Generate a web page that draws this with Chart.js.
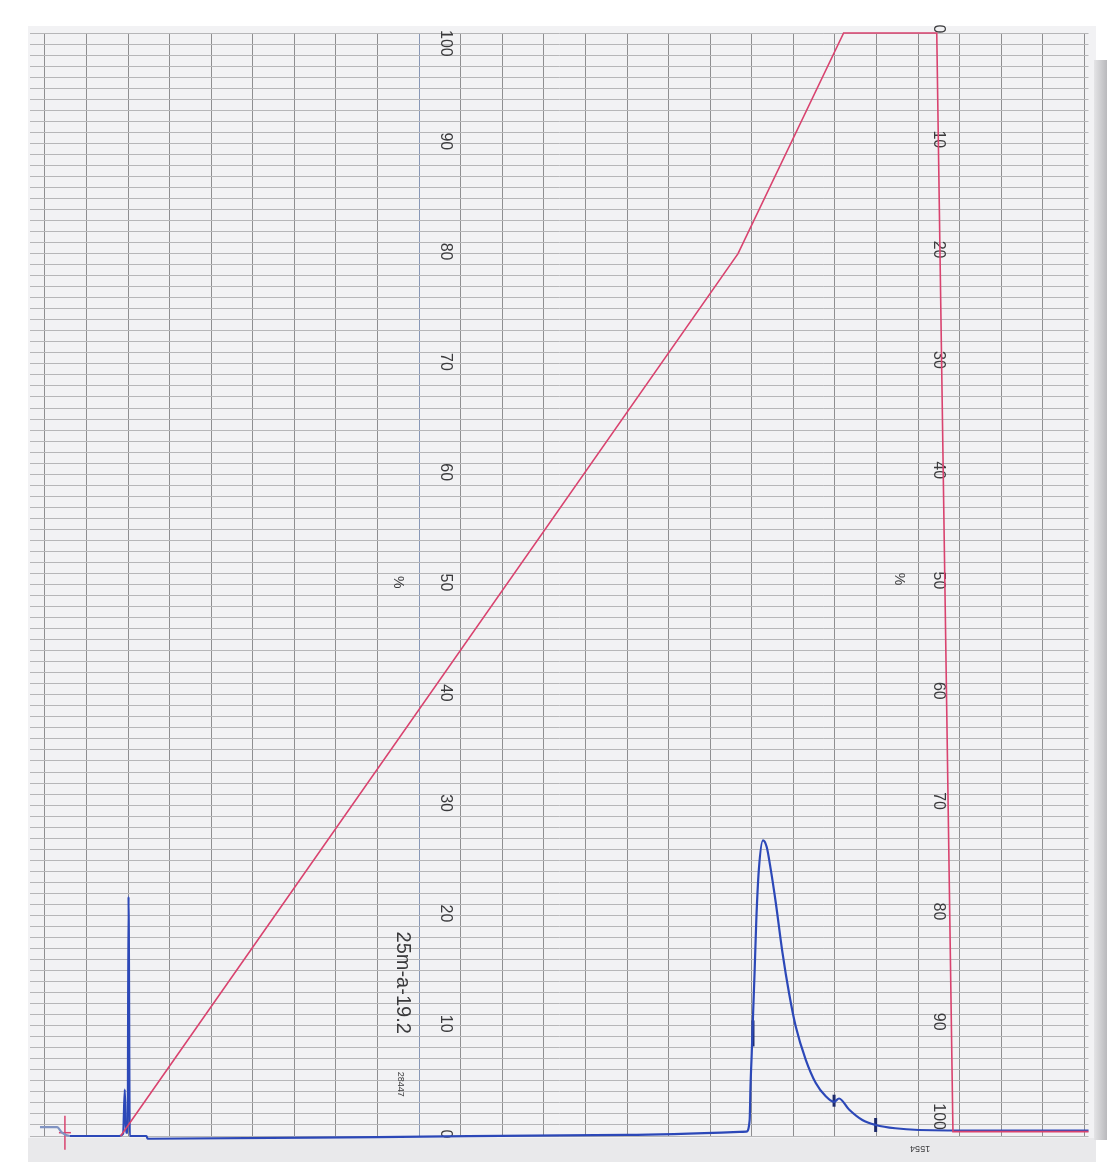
<!DOCTYPE html>
<html>
<head>
<meta charset="utf-8">
<title>25m-a-19.2</title>
<script src="https://cdn.jsdelivr.net/npm/chart.js@4.4.1/dist/chart.umd.min.js"></script>
<style>
  html, body { margin: 0; padding: 0; background: #fff; }
  #wrap { position: relative; width: 1107px; height: 1175px; }
</style>
</head>
<body>
<div id="wrap"><canvas id="trace"></canvas></div>
<script>
// Detector trace (blue). x = chart divisions, y = % of full scale
const traceX = [-0.12, 0.29, 0.41, 0.60, 1.79, 1.88, 1.92, 1.95, 1.99, 2.01, 2.04, 2.44, 2.47, 8.00, 14.00,
  16.87, 16.95, 16.97, 17.00, 17.03, 17.07, 17.11, 17.17, 17.27, 17.36, 17.46, 17.58, 17.74, 17.90,
  18.06, 18.30, 18.54, 18.78, 18.98, 19.10, 19.34, 19.66, 19.98, 20.45, 21.72, 25.10];
const traceY = [0.8, 0.8, 0.3, 0.0, 0.0, 0.2, 4.2, 0.3, 0.3, 21.7, 0.0, 0.0, -0.25, -0.1, 0.1,
  0.39, 1.45, 4.5, 7.5, 10.8, 15.0, 19.6, 24.1, 26.8, 26.2, 24.1, 21.1, 16.6, 12.9,
  9.9, 6.9, 4.8, 3.6, 3.1, 3.4, 2.4, 1.45, 1.0, 0.7, 0.5, 0.5];

// Gradient programme (red), % B
const gradX = [1.82, 16.67, 19.21, 21.45, 21.84, 25.10];
const gradY = [0, 80, 100, 100, 0.4, 0.4];

// Integrator marks on the trace
const markX = [17.03, 18.98, 19.98];
const markY = [9.3, 3.2, 1.0];

// Injection mark
const injectX = [0.48];
const injectY = [0.3];

// Printed scales on the paper
const scaleValues = [0, 10, 20, 30, 40, 50, 60, 70, 80, 90, 100];
const leftLabels = ['0', '10', '20', '30', '40', '50', '60', '70', '80', '90', '100'];
const rightLabels = ['100', '90', '80', '70', '60', '50', '40', '30', '20', '10', '0'];

const toPoints = (xs, ys) => xs.map((x, i) => ({ x: x, y: ys[i] }));

const RED = '#d9436f';
const BLUE = '#2c48b8';
const FONT = '"Liberation Sans", Arial, sans-serif';

// paper background
const paper = {
  id: 'paper',
  beforeDraw(chart) {
    const { ctx, width, height } = chart;
    ctx.save();
    ctx.fillStyle = '#ffffff';
    ctx.fillRect(0, 0, width, height);
    ctx.fillStyle = '#f2f2f4';
    ctx.fillRect(28, 26, 1068, 1112);
    ctx.fillStyle = '#e9e9eb';
    ctx.fillRect(28, 1138, 1068, 24);
    const g = ctx.createLinearGradient(1094, 0, 1107, 0);
    g.addColorStop(0, '#e4e4e6');
    g.addColorStop(1, '#b9b9bc');
    ctx.fillStyle = g;
    ctx.fillRect(1094, 60, 13, 1080);
    ctx.restore();
  }
};

// printed text on the chart paper
const printed = {
  id: 'printed',
  beforeDatasetsDraw(chart) {
    const { ctx, chartArea: a, scales: { x, y } } = chart;
    const put = (txt, px, py, angle) => {
      ctx.save();
      ctx.translate(px, py);
      ctx.rotate(angle);
      ctx.textAlign = 'center';
      ctx.textBaseline = 'middle';
      ctx.fillText(txt, 0, 0);
      ctx.restore();
    };
    ctx.save();
    ctx.fillStyle = '#3a3a3c';
    ctx.font = '16px ' + FONT;
    const lx = x.getPixelForValue(9.62);
    const rx = x.getPixelForValue(21.48);
    scaleValues.forEach((v, i) => {
      const wl = ctx.measureText(leftLabels[i]).width;
      put(leftLabels[i], lx, Math.max(y.getPixelForValue(v) - 2, a.top + wl / 2 - 3), Math.PI / 2);
      const wr = ctx.measureText(rightLabels[i]).width;
      put(rightLabels[i], rx, Math.min(y.getPixelForValue(v) - 4, a.bottom - wr / 2 - 6), Math.PI / 2);
    });
    ctx.font = '14px ' + FONT;
    put('%', x.getPixelForValue(8.49), y.getPixelForValue(50.2), Math.PI / 2);
    put('%', x.getPixelForValue(20.53), y.getPixelForValue(50.5), Math.PI / 2);
    ctx.font = '20px ' + FONT;
    put('25m-a-19.2', x.getPixelForValue(8.61), y.getPixelForValue(13.9), Math.PI / 2);
    ctx.font = '9px ' + FONT;
    put('28447', x.getPixelForValue(8.54), y.getPixelForValue(4.7), Math.PI / 2);
    put('1554', x.getPixelForValue(21.05), y.getPixelForValue(-1.1), Math.PI);
    ctx.restore();
  }
};

new Chart(document.getElementById('trace'), {
  type: 'line',
  data: {
    datasets: [
      {
        label: 'Gradient',
        data: toPoints(gradX, gradY),
        borderColor: RED,
        borderWidth: 1.6,
        pointRadius: 0,
        tension: 0,
        clip: false
      },
      {
        label: 'Detector',
        data: toPoints(traceX, traceY),
        borderColor: BLUE,
        borderWidth: 2.2,
        pointRadius: 0,
        cubicInterpolationMode: 'monotone',
        clip: false,
        segment: {
          borderColor: c => c.p0.parsed.x < 0.6 ? '#8093c2' : undefined
        }
      },
      {
        label: 'Marks',
        type: 'scatter',
        data: toPoints(markX, markY),
        pointStyle: 'line',
        rotation: 90,
        pointRadius: [13, 6, 7],
        borderColor: '#1d2a6b',
        borderWidth: 3,
        clip: false
      },
      {
        label: 'Inject',
        type: 'scatter',
        data: toPoints(injectX, injectY),
        pointStyle: 'line',
        rotation: 90,
        pointRadius: 17,
        borderColor: RED,
        borderWidth: 1.5,
        clip: false
      },
      {
        label: 'Inject h',
        type: 'scatter',
        data: toPoints(injectX, injectY),
        pointStyle: 'line',
        rotation: 0,
        pointRadius: 6,
        borderColor: RED,
        borderWidth: 1.5,
        clip: false
      }
    ]
  },
  options: {
    responsive: true,
    maintainAspectRatio: false,
    animation: false,
    layout: { padding: { left: 30, right: 13, top: 33, bottom: 39 } },
    plugins: {
      legend: { display: false },
      tooltip: { enabled: false }
    },
    scales: {
      x: {
        type: 'linear',
        min: -0.36,
        max: 25.1,
        ticks: { display: false, stepSize: 1, includeBounds: false },
        afterBuildTicks: axis => {
          axis.ticks = axis.ticks.filter(t => Math.abs(t.value - Math.round(t.value)) < 1e-6);
        },
        grid: {
          drawTicks: false,
          color: c => c.tick && c.tick.value === 9 ? '#8797b6' : '#8e8e90',
          lineWidth: 1
        },
        border: { display: false }
      },
      y: {
        min: 0,
        max: 100,
        ticks: { display: false, stepSize: 1 },
        grid: {
          drawTicks: false,
          color: '#b6b6b8',
          lineWidth: 1
        },
        border: { display: false }
      }
    }
  },
  plugins: [paper, printed]
});
</script>
</body>
</html>
